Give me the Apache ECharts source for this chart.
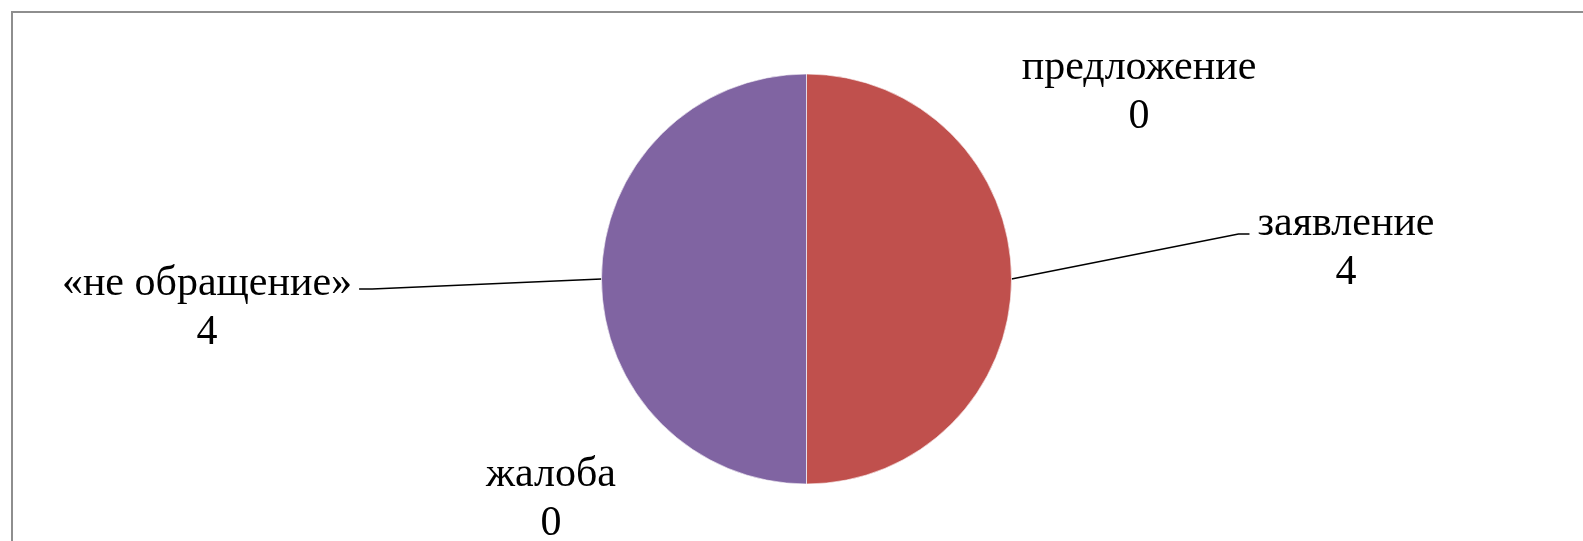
<!DOCTYPE html>
<html>
<head>
<meta charset="utf-8">
<script src="https://cdn.jsdelivr.net/npm/echarts@6/dist/echarts.min.js"></script>
<style>
  html, body { margin: 0; padding: 0; width: 1583px; height: 541px; overflow: hidden; background: #fff; }
  #frame { position: absolute; left: 11px; top: 11px; width: 1700px; height: 700px; border: 2px solid #8e8e8e; box-sizing: border-box; }
  #chart { position: absolute; left: 0; top: 0; width: 1583px; height: 541px; }
</style>
</head>
<body>
<div id="frame"></div>
<div id="chart"></div>
<script>
// ---- data ----
const categories = ['предложение', 'заявление', 'жалоба', '«не обращение»'];
const values = [0, 4, 0, 4];
const sliceColors = ['#4F81BD', '#C0504D', '#9BBB59', '#8064A2'];

// ---- layout (label anchor centres, px), same order as categories ----
const labelPos = [[1139, 92], [1346, 248], [551, 499], [207, 308]];
const pieCenter = [806.5, 279];
const pieRadius = 205;

const chart = echarts.init(document.getElementById('chart'), null, { renderer: 'canvas' });

const data = categories.map((name, i) => ({
  name: name,
  value: values[i],
  itemStyle: { color: sliceColors[i] },
  labelLine: { show: values[i] > 0 }
}));

chart.setOption({
  animation: false,
  backgroundColor: 'transparent',
  series: [{
    type: 'pie',
    center: pieCenter,
    radius: pieRadius,
    startAngle: 90,
    clockwise: true,
    avoidLabelOverlap: false,
    data: data,
    itemStyle: { borderColor: 'rgba(255,255,255,0.6)', borderWidth: 1 },
    label: {
      show: true,
      position: 'outside',
      formatter: '{b}\n{c}',
      fontFamily: 'Liberation Serif',
      fontSize: 42,
      lineHeight: 49,
      color: '#000'
    },
    labelLine: {
      show: false,
      length: 20,
      length2: 10,
      lineStyle: { color: '#000', width: 1.5 }
    },
    labelLayout: function (params) {
      const i = params.dataIndex;
      const x = labelPos[i][0], y = labelPos[i][1];
      const res = { x: x, y: y, align: 'center', verticalAlign: 'middle' };
      if (values[i] > 0) {
        const w = params.labelRect.width;
        if (x > pieCenter[0]) {
          const start = [pieCenter[0] + pieRadius, pieCenter[1]];
          const left = x - w / 2, ly = y - 14;
          res.labelLinePoints = [start, [left - 19, ly], [left - 8, ly]];
        } else {
          const start = [pieCenter[0] - pieRadius, pieCenter[1]];
          const right = x + w / 2, ly = y - 19;
          res.labelLinePoints = [start, [right + 20, ly], [right + 7, ly]];
        }
      }
      return res;
    },
    emphasis: { disabled: true },
    silent: true
  }]
});
</script>
</body>
</html>
